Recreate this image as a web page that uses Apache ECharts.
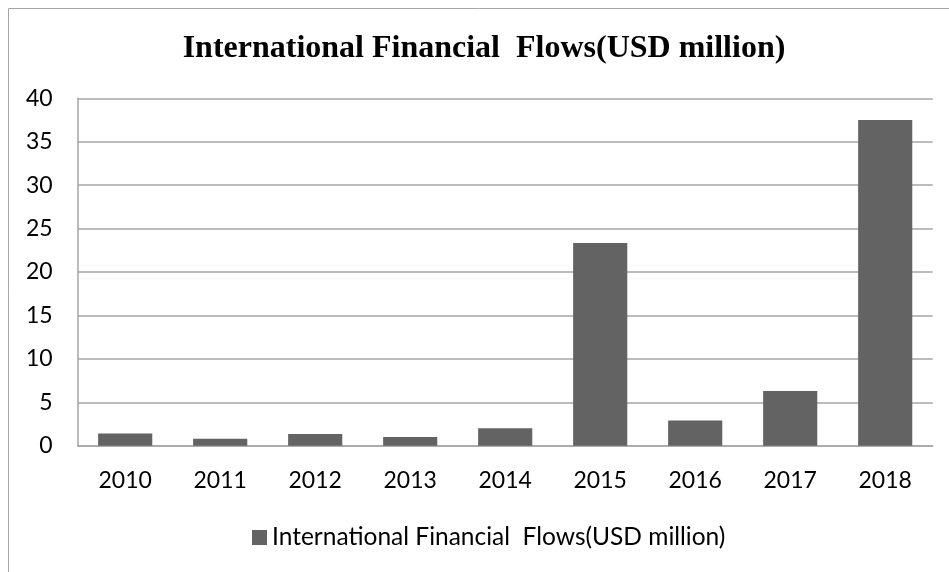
<!DOCTYPE html>
<html>
<head>
<meta charset="utf-8">
<title>International Financial Flows</title>
<script src="https://cdn.jsdelivr.net/npm/echarts@6/dist/echarts.min.js"></script>
<style>
  html, body { margin: 0; padding: 0; background: #fff; }
  #chart { width: 949px; height: 572px; }
</style>
</head>
<body>
<div id="chart"></div>
<script>
// Yearly international financial flows, USD million
const years = ['2010', '2011', '2012', '2013', '2014', '2015', '2016', '2017', '2018'];
const flows = [1.4, 0.8, 1.35, 1.0, 2.0, 23.35, 2.9, 6.3, 37.5];
const seriesName = 'International Financial  Flows(USD million)';
const titleText = 'International Financial  Flows(USD million)';

const chart = echarts.init(document.getElementById('chart'), null, { renderer: 'canvas' });

const labelFont = 'Lato, "Open Sans", sans-serif';

chart.setOption({
  animation: false,
  backgroundColor: '#ffffff',
  graphic: [{
    type: 'rect',
    shape: { x: 8.5, y: 8.5, width: 1000, height: 1000 },
    style: { fill: 'none', stroke: '#a6a6a6', lineWidth: 1 },
    silent: true
  }],
  title: {
    text: titleText,
    left: 479,
    textAlign: 'center',
    top: 28,
    textStyle: {
      fontFamily: '"Liberation Serif", "Times New Roman", serif',
      fontWeight: 'bold',
      fontSize: 32,
      color: '#000'
    }
  },
  legend: {
    data: [seriesName],
    left: 247,
    top: 520,
    itemWidth: 15,
    itemHeight: 15,
    icon: 'rect',
    textStyle: { fontFamily: labelFont, fontSize: 24.5, color: '#000' }
  },
  grid: { left: 77.7, right: 16.3, top: 98.3, bottom: 126.3, containLabel: false },
  xAxis: {
    type: 'category',
    data: years,
    axisLine: { lineStyle: { color: '#a6a6a6', width: 1.5 } },
    axisTick: { show: false },
    axisLabel: { margin: 23, fontFamily: labelFont, fontSize: 23, color: '#000' },
    splitLine: { show: false }
  },
  yAxis: {
    type: 'value',
    min: 0,
    max: 40,
    interval: 5,
    axisLine: { show: true, lineStyle: { color: '#a6a6a6', width: 1.5 } },
    axisTick: { show: false },
    axisLabel: { margin: 25, fontFamily: labelFont, fontSize: 23, color: '#000' },
    splitLine: { show: true, lineStyle: { color: '#a6a6a6', width: 1.5 } }
  },
  series: [{
    name: seriesName,
    type: 'bar',
    data: flows,
    barCategoryGap: '43%',
    itemStyle: { color: '#636363' }
  }]
});
</script>
</body>
</html>
